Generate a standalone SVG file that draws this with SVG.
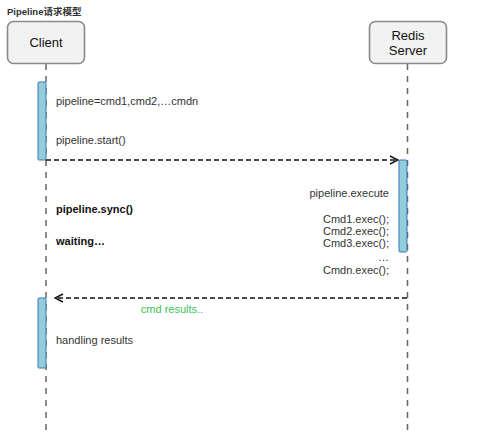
<svg xmlns="http://www.w3.org/2000/svg" width="500" height="432" viewBox="0 0 500 432">
<style>
.t{font-family:"Liberation Sans",Arial,sans-serif;font-size:11px;fill:#333}
.b{font-weight:bold;fill:#111}
.hd{font-family:"Liberation Sans",Arial,sans-serif;font-size:13px;fill:#111;text-anchor:middle}
.box{fill:#f2f2f2;stroke:#8a8a8a;stroke-width:1.6}
.life{stroke:#666;stroke-width:1.5;stroke-dasharray:6,6;fill:none}
.act{fill:#92cddc;stroke:#3d75b5;stroke-width:1}
.msg{stroke:#111;stroke-width:1.4;stroke-dasharray:5,3;fill:none}
</style>
<defs>
<marker id="open" viewBox="0 0 10 10" refX="9" refY="5" markerWidth="10" markerHeight="10" markerUnits="userSpaceOnUse" orient="auto">
<path d="M1,1 L9,5 L1,9" fill="none" stroke="#111" stroke-width="1.4"/>
</marker>
</defs>
<rect width="500" height="432" fill="#fff"/>
<text x="7" y="15" style="font-family:'Liberation Sans','Noto Sans CJK SC',sans-serif;font-size:9.5px;font-weight:bold;fill:#333">Pipeline请求模型</text>
<g id="client">
<line class="life" x1="46" y1="64" x2="46" y2="432"/>
<rect class="box" x="7.5" y="21.5" width="77" height="42" rx="6"/>
<text class="hd" x="46" y="47">Client</text>
<rect class="act" x="38" y="82" width="8" height="78" rx="1"/>
<rect class="act" x="38" y="298" width="8" height="70" rx="1"/>
</g>
<g id="server">
<line class="life" x1="407.5" y1="64" x2="407.5" y2="432"/>
<rect class="box" x="369.5" y="21.5" width="77" height="42" rx="6"/>
<text class="hd" x="408" y="40">Redis</text>
<text class="hd" x="408" y="55">Server</text>
<rect class="act" x="399" y="160" width="8" height="92" rx="1"/>
</g>
<g id="connectors">
<line class="msg" x1="46" y1="160" x2="398" y2="160" marker-end="url(#open)"/>
<line class="msg" x1="407" y1="298" x2="55" y2="298" marker-end="url(#open)"/>
</g>
<g id="labels">
<text class="t" x="56" y="105">pipeline=cmd1,cmd2,…cmdn</text>
<text class="t" x="56" y="144">pipeline.start()</text>
<text class="t b" x="56" y="213">pipeline.sync()</text>
<text class="t b" x="56" y="245">waiting…</text>
<text class="t" x="389" y="197" text-anchor="end">pipeline.execute</text>
<text class="t" x="389" y="223" text-anchor="end">Cmd1.exec();</text>
<text class="t" x="389" y="235" text-anchor="end">Cmd2.exec();</text>
<text class="t" x="389" y="247" text-anchor="end">Cmd3.exec();</text>
<text class="t" x="389" y="261" text-anchor="end">…</text>
<text class="t" x="389" y="274" text-anchor="end">Cmdn.exec();</text>
<text class="t" x="172" y="313" text-anchor="middle" style="fill:#3cc25a">cmd results..</text>
<text class="t" x="56" y="344">handling results</text>
</g>
</svg>
